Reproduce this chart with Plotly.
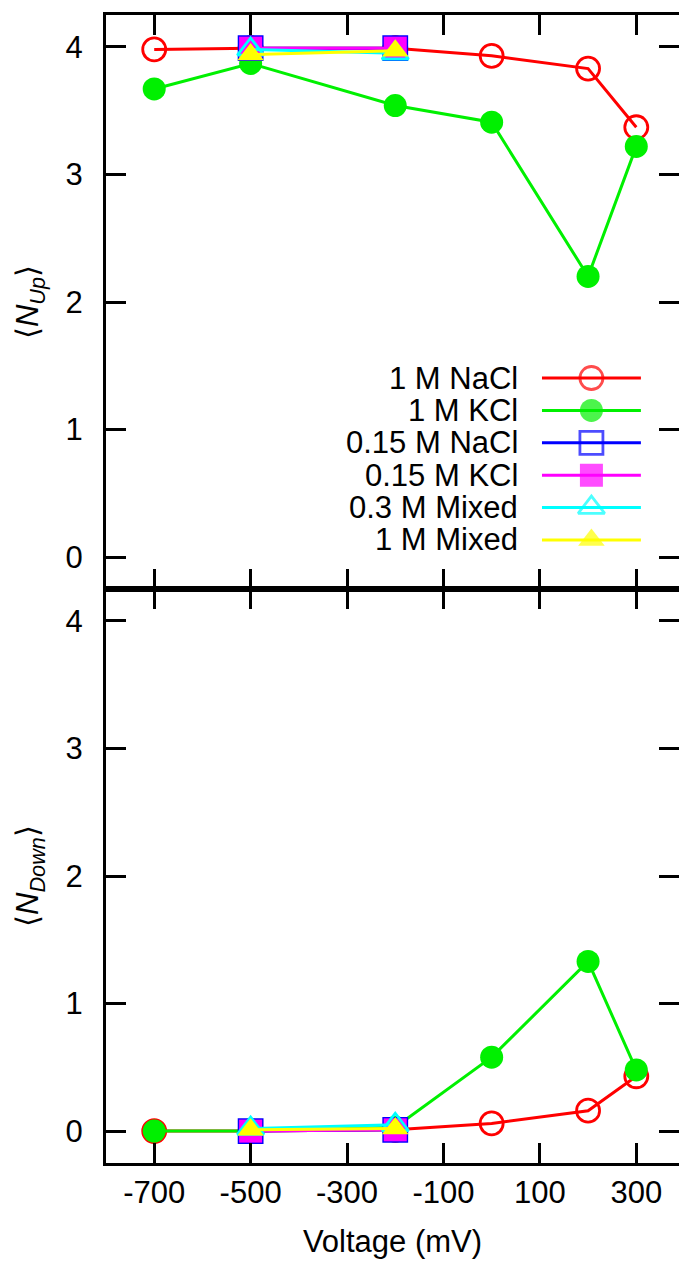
import plotly.graph_objects as go

# ---------------- data ----------------
series_names = ["1 M NaCl", "1 M KCl", "0.15 M NaCl", "0.15 M KCl", "0.3 M Mixed", "1 M Mixed"]

voltage_wide = [-700, -500, -200, 0, 200, 300]
voltage_narrow = [-500, -200]

nup_nacl_1m = [3.98, 3.99, 3.99, 3.93, 3.83, 3.37]
nup_kcl_1m = [3.67, 3.87, 3.54, 3.41, 2.20, 3.22]
nup_nacl_015 = [3.99, 3.99]
nup_kcl_015 = [3.99, 3.99]
nup_mixed_03 = [3.98, 3.95]
nup_mixed_1 = [3.94, 3.97]

ndown_nacl_1m = [0.00, 0.00, 0.01, 0.06, 0.16, 0.43]
ndown_kcl_1m = [0.00, 0.00, 0.03, 0.58, 1.33, 0.48]
ndown_nacl_015 = [0.00, 0.01]
ndown_kcl_015 = [0.00, 0.01]
ndown_mixed_03 = [0.02, 0.05]
ndown_mixed_1 = [0.01, 0.02]

x_tickvals = [-700, -500, -300, -100, 100, 300]
x_ticktext = ["-700", "-500", "-300", "-100", "100", "300"]
y_tickvals = [0, 1, 2, 3, 4]

# ---------------- styles ----------------
FONT = "Liberation Sans, Arial, Helvetica, sans-serif"
LW = 3
MS = 23
styles = [
    dict(color="#ff0000", symbol="circle-open", mlw=2.8),
    dict(color="#00f000", symbol="circle", mlw=0),
    dict(color="#0000ff", symbol="square-open", mlw=2.8),
    dict(color="#ff00ff", symbol="square", mlw=0),
    dict(color="#00ffff", symbol="triangle-up-open", mlw=2.8),
    dict(color="#ffff00", symbol="triangle-up", mlw=0),
]

top_data = [
    (voltage_wide, nup_nacl_1m), (voltage_wide, nup_kcl_1m),
    (voltage_narrow, nup_nacl_015), (voltage_narrow, nup_kcl_015),
    (voltage_narrow, nup_mixed_03), (voltage_narrow, nup_mixed_1),
]
bottom_data = [
    (voltage_wide, ndown_nacl_1m), (voltage_wide, ndown_kcl_1m),
    (voltage_narrow, ndown_nacl_015), (voltage_narrow, ndown_kcl_015),
    (voltage_narrow, ndown_mixed_03), (voltage_narrow, ndown_mixed_1),
]

fig = go.Figure()

def add_series(xs, ys, st, name, xa, ya):
    fig.add_trace(go.Scatter(
        x=xs, y=ys, name=name, mode="lines+markers", xaxis=xa, yaxis=ya,
        line=dict(color=st["color"], width=LW),
        marker=dict(symbol=st["symbol"], size=MS, color=st["color"],
                    line=dict(color=st["color"], width=st["mlw"])),
        showlegend=False, cliponaxis=False,
    ))

for (xs, ys), st, nm in zip(top_data, styles, series_names):
    add_series(xs, ys, st, nm, "x", "y")
for (xs, ys), st, nm in zip(bottom_data, styles, series_names):
    add_series(xs, ys, st, nm, "x2", "y2")

# legend samples drawn in an auxiliary (hidden) axis
for i, (st, nm) in enumerate(zip(styles, series_names)):
    fig.add_trace(go.Scatter(
        x=[0, 0.5, 1], y=[i, i, i], mode="lines+markers", xaxis="x5", yaxis="y5",
        line=dict(color=st["color"], width=LW),
        marker=dict(symbol=st["symbol"], size=[0, MS, 0], color=st["color"],
                    line=dict(color=st["color"], width=st["mlw"])),
        showlegend=False, hoverinfo="skip",
    ))

# empty traces so the right-hand tick axes render
fig.add_trace(go.Scatter(x=[], y=[], xaxis="x", yaxis="y3", showlegend=False))
fig.add_trace(go.Scatter(x=[], y=[], xaxis="x2", yaxis="y4", showlegend=False))

XR = [-800, 388.6]
YR = [-0.25, 4.25]

common_x = dict(range=XR, tickvals=x_tickvals, ticktext=x_ticktext, ticks="inside",
                ticklen=20, tickwidth=2.5, tickcolor="black", showline=True,
                linewidth=2.5, linecolor="black", mirror="ticks", showgrid=False,
                zeroline=False, tickfont=dict(family=FONT, size=31, color="black"))
common_y = dict(range=YR, tickvals=y_tickvals, ticks="inside", ticklen=20, tickwidth=2.5,
                tickcolor="black", showline=True, linewidth=3, linecolor="black",
                mirror=False, showgrid=False, zeroline=False,
                tickfont=dict(family=FONT, size=31, color="black"),
                ticklabelstandoff=14)
right_y = dict(range=YR, tickvals=y_tickvals, ticks="inside", ticklen=20, tickwidth=2.5,
               tickcolor="black", showline=False, showgrid=False, zeroline=False,
               showticklabels=False, side="right")

title_font = dict(family=FONT, size=31, color="black")

fig.update_layout(
    width=679, height=1265,
    margin=dict(l=106, r=0, t=15, b=102),
    paper_bgcolor="white", plot_bgcolor="white",
    showlegend=False,
    xaxis=dict(common_x, domain=[0, 1], anchor="y", showticklabels=False),
    yaxis=dict(common_y, domain=[0.5, 1], anchor="x",
               title=dict(text="⟨<i>N</i><sub><i>Up</i></sub>⟩", font=title_font, standoff=18)),
    xaxis2=dict(common_x, domain=[0, 1], anchor="y2", matches="x", ticklabelstandoff=0,
                title=dict(text="Voltage (mV)", font=title_font, standoff=22)),
    yaxis2=dict(common_y, domain=[0, 0.5], anchor="x2",
                title=dict(text="⟨<i>N</i><sub><i>Down</i></sub>⟩", font=title_font, standoff=18)),
    yaxis3=dict(right_y, overlaying="y", anchor="x"),
    yaxis4=dict(right_y, overlaying="y2", anchor="x2"),
    xaxis5=dict(domain=[0.7607, 0.9336], range=[0, 1], visible=False, anchor="y5", fixedrange=True),
    yaxis5=dict(domain=[0.5286, 0.6979], range=[5.5, -0.5], visible=False, anchor="x5", fixedrange=True),
)

for i, nm in enumerate(series_names):
    fig.add_annotation(text=nm, xref="paper", yref="y5", x=0.7223, y=i,
                       xanchor="right", yanchor="middle", showarrow=False,
                       font=dict(family=FONT, size=31, color="black"))

fig.write_html("out.html", config={"displayModeBar": False},
               post_script="document.body.style.margin='0px';")
